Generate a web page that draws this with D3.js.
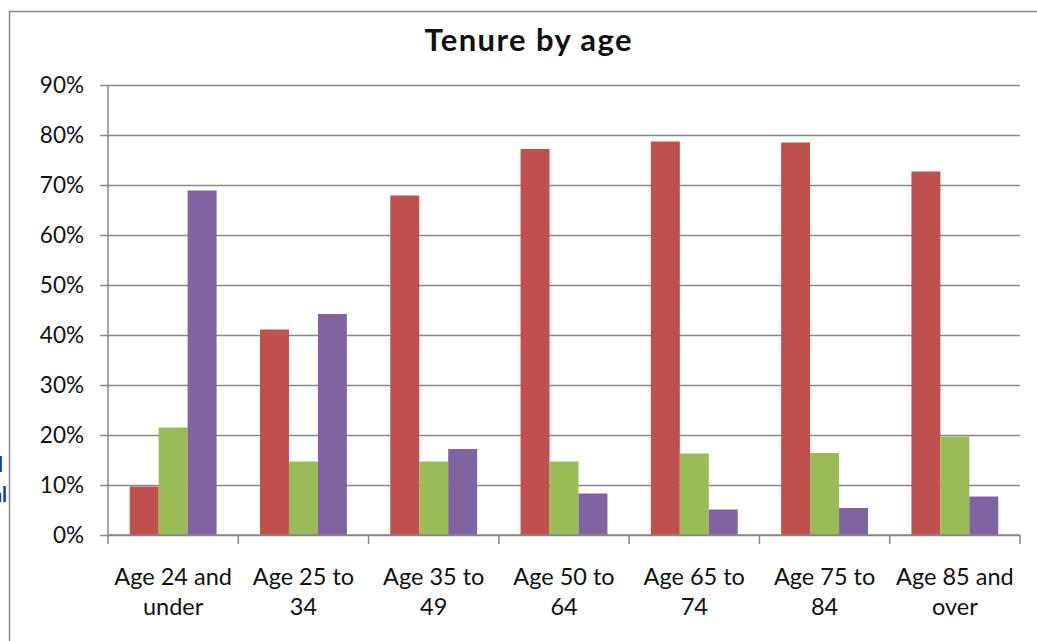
<!DOCTYPE html>
<html>
<head>
<meta charset="utf-8">
<script src="https://cdn.jsdelivr.net/npm/d3@7"></script>
<style>
  body { margin: 0; background: #fff; }
  svg { display: block; font-family: Lato, "Liberation Sans", sans-serif; }
</style>
</head>
<body>
<svg width="1037" height="641"></svg>
<script>
// data
const categories = ["Age 24 and under", "Age 25 to 34", "Age 35 to 49", "Age 50 to 64",
                    "Age 65 to 74", "Age 75 to 84", "Age 85 and over"];
const labelLines = [["Age 24 and", "under"], ["Age 25 to", "34"], ["Age 35 to", "49"],
                    ["Age 50 to", "64"], ["Age 65 to", "74"], ["Age 75 to", "84"],
                    ["Age 85 and", "over"]];
const seriesNames = ["Owned", "Social rented", "Private rented"];
const owned = [0.097, 0.411, 0.679, 0.772, 0.787, 0.785, 0.727];
const socialRented = [0.215, 0.147, 0.147, 0.147, 0.163, 0.164, 0.197];
const privateRented = [0.689, 0.442, 0.172, 0.083, 0.051, 0.054, 0.077];
const colours = ["#C0504D", "#9BBB59", "#8064A2"];
const yTicks = [0, 0.1, 0.2, 0.3, 0.4, 0.5, 0.6, 0.7, 0.8, 0.9];

let svg = d3.select('svg');

// chart frame
svg.append('rect')
  .attr('x', 9.5).attr('y', 11.5)
  .attr('width', 1100).attr('height', 700)
  .attr('fill', 'none').attr('stroke', '#8a8a8a').attr('stroke-width', 1.5);

// text cut off at the left edge (as in the picture)
svg.append('text').attr('x', 3).attr('y', 472).attr('text-anchor', 'end')
  .attr('font-size', 20).attr('font-weight', 'bold').attr('fill', '#1f3a8a').text('l');
svg.append('text').attr('x', 7).attr('y', 502).attr('text-anchor', 'end')
  .attr('font-size', 20).attr('font-weight', 'bold').attr('fill', '#1f3a8a').text('al');

// title
svg.append('text')
  .attr('x', 528).attr('y', 51)
  .attr('text-anchor', 'middle')
  .attr('font-size', 31).attr('font-weight', 'bold').attr('fill', '#111')
  .attr('textLength', 207).attr('lengthAdjust', 'spacing')
  .text('Tenure by age');

// scales
let xScale = d3.scaleBand().domain(categories).range([108, 1020]).padding(0);
let xInner = d3.scaleBand().domain(seriesNames).range([0, xScale.bandwidth()])
  .paddingInner(0).paddingOuter(0.75);
let yScale = d3.scaleLinear().domain([0, 0.9]).range([535, 85]);

// gridlines + y ticks
let yAxis = d3.axisLeft(yScale)
  .tickValues(yTicks)
  .tickSize(-(1020 - 100))
  .tickFormat(d3.format('.0%'));
let yg = svg.append('g').attr('transform', 'translate(100,0)').call(yAxis);
yg.select('.domain').remove();
yg.selectAll('.tick line').attr('stroke', '#878787').attr('stroke-width', 1.5);
yg.selectAll('.tick text')
  .attr('x', -16).attr('font-size', 22.5).attr('fill', '#111')
  .attr('font-family', 'Lato, sans-serif');

// bars
let seriesData = [owned, socialRented, privateRented];
let groups = svg.append('g').selectAll('g')
  .data(categories)
  .join('g')
  .attr('transform', d => `translate(${xScale(d)},0)`);
groups.selectAll('rect')
  .data((c, i) => seriesNames.map((s, j) => ({ s: s, v: seriesData[j][i], j: j })))
  .join('rect')
  .attr('x', d => xInner(d.s))
  .attr('width', xInner.bandwidth())
  .attr('y', d => yScale(d.v))
  .attr('height', d => yScale(0) - yScale(d.v))
  .attr('fill', d => colours[d.j]);

// y axis line
svg.append('line')
  .attr('x1', 108).attr('x2', 108).attr('y1', 85).attr('y2', 535)
  .attr('stroke', '#878787').attr('stroke-width', 1.5);

// x axis with ticks at category boundaries
let xg = svg.append('g');
xg.append('line')
  .attr('x1', 108).attr('x2', 1020).attr('y1', 535).attr('y2', 535)
  .attr('stroke', '#878787').attr('stroke-width', 1.5);
let bounds = categories.map(c => xScale(c)).concat([1020]);
xg.selectAll('line.tk').data(bounds).join('line').attr('class', 'tk')
  .attr('x1', d => d).attr('x2', d => d).attr('y1', 535).attr('y2', 544)
  .attr('stroke', '#878787').attr('stroke-width', 1.5);

// category labels
let lbl = svg.append('g').selectAll('text')
  .data(categories)
  .join('text')
  .attr('text-anchor', 'middle')
  .attr('font-size', 23.5).attr('fill', '#111')
  .attr('transform', d => `translate(${xScale(d) + xScale.bandwidth() / 2},0)`);
lbl.selectAll('tspan')
  .data((d, i) => labelLines[i])
  .join('tspan')
  .attr('x', 0)
  .attr('y', (d, i) => 585 + i * 30)
  .text(d => d);
</script>
</body>
</html>
